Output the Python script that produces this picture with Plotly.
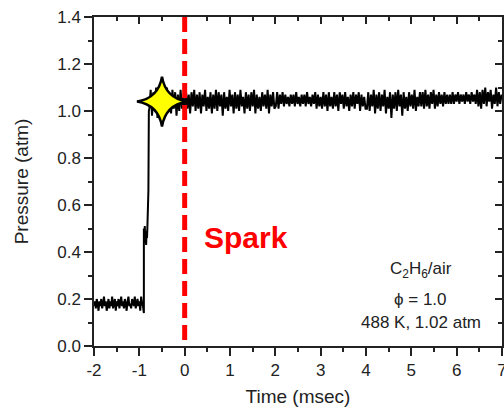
import numpy as np
import plotly.graph_objects as go

# --- data ---
# pre-ignition baseline, sampled every 0.02 ms from -2.00 ms
pre_t0, pre_dt = -2.00, 0.02
pre_p = [0.17, 0.19, 0.16, 0.20, 0.18, 0.15, 0.19, 0.17, 0.20, 0.16, 0.18, 0.21, 0.17, 0.19, 0.15, 0.18,
         0.20, 0.16, 0.19, 0.17, 0.21, 0.16, 0.18, 0.20, 0.15, 0.19, 0.17, 0.20, 0.16, 0.18, 0.21, 0.17,
         0.19, 0.16, 0.20, 0.18, 0.15, 0.19, 0.21, 0.17, 0.18, 0.16, 0.20, 0.19, 0.17, 0.21, 0.16, 0.18,
         0.20, 0.17, 0.19, 0.15, 0.21, 0.18, 0.17, 0.14]

# first pressure step and rise to the plateau
rise_t = [-0.90, -0.89, -0.88, -0.87, -0.86, -0.85, -0.84, -0.83, -0.82, -0.81, -0.80, -0.79]
rise_p = [0.50, 0.44, 0.51, 0.45, 0.49, 0.43, 0.48, 0.46, 0.52, 0.58, 0.66, 1.00]

# plateau after ignition, sampled every 0.03 ms from -0.78 ms
post_t0, post_dt = -0.78, 0.03
post_p = [
    1.01, 1.09, 0.98, 1.08, 1.00, 1.10, 0.97, 1.07, 1.01, 1.09, 0.99, 1.08, 0.98, 1.10, 1.00, 1.07,
    0.99, 1.09, 1.01, 1.08, 0.98, 1.07, 1.00, 1.09, 1.01, 1.06,
    1.00, 1.08, 1.01, 1.07, 0.99, 1.08, 1.02, 1.09, 1.00, 1.07, 1.01, 1.08, 0.99, 1.07, 1.02, 1.09,
    1.00, 1.06, 1.01, 1.08, 0.99, 1.07, 1.01, 1.09, 1.00, 1.08, 1.02, 1.07, 0.98, 1.08, 1.01, 1.06,
    1.00, 1.09, 1.02, 1.07, 0.99, 1.08, 1.01, 1.07, 1.00, 1.09, 1.02, 1.06, 0.99, 1.08, 1.01, 1.07,
    1.00, 1.08, 1.02, 1.09, 0.99, 1.07, 1.01, 1.06, 1.00, 1.08, 1.02, 1.07, 1.01, 1.09, 0.99, 1.07,
    1.02, 1.08, 1.01,
    1.02, 1.08, 1.01, 1.07, 1.03, 1.08, 1.02, 1.07, 1.03, 1.06, 1.02, 1.07, 1.03, 1.07, 1.02, 1.08,
    1.03, 1.06, 1.02, 1.07, 1.03, 1.07, 1.02, 1.08, 1.03, 1.06, 1.02, 1.07, 1.03, 1.08, 1.01, 1.07,
    1.02, 1.06,
    1.01, 1.08, 1.02, 1.07, 1.00, 1.08, 1.02, 1.06, 1.01, 1.08, 1.02, 1.07, 1.00, 1.08, 1.03, 1.07,
    1.01, 1.08, 1.02, 1.06, 1.00, 1.07, 1.02, 1.08, 1.01, 1.07, 1.03, 1.08, 1.00, 1.07, 1.02, 1.06,
    1.01,
    1.01, 1.08, 1.00, 1.07, 1.02, 1.09, 0.99, 1.07, 1.01, 1.08, 1.00, 1.07, 1.02, 1.09, 0.99, 1.06,
    1.01, 1.08, 0.97, 1.07, 1.01, 1.08, 1.00, 1.09, 1.02, 1.07, 0.98, 1.08, 1.01, 1.06, 1.00, 1.08,
    1.02, 1.07, 1.01, 1.09, 1.00, 1.06, 1.02, 1.08,
    1.02, 1.08, 1.01, 1.09, 1.02, 1.07, 1.01, 1.08, 1.03, 1.09, 1.01, 1.07, 1.02, 1.08, 1.03, 1.07,
    1.02, 1.08, 1.03, 1.07, 1.03, 1.07, 1.03, 1.08, 1.03, 1.07, 1.04, 1.08, 1.03, 1.07, 1.04, 1.07,
    1.03, 1.08,
    1.04, 1.07, 1.03, 1.08, 1.04, 1.07, 1.03, 1.09, 1.02, 1.08, 1.01, 1.09, 1.03, 1.10, 1.02, 1.08,
    1.04, 1.09, 1.01, 1.07, 1.03, 1.10, 1.02, 1.08, 1.03, 1.07,
]

spark_time = 0.0
ignition_time, ignition_p = -0.5, 1.04

x_tickvals = [-2, -1, 0, 1, 2, 3, 4, 5, 6, 7]
x_ticktext = ["-2", "-1", "0", "1", "2", "3", "4", "5", "6", "7"]
y_tickvals = [0.0, 0.2, 0.4, 0.6, 0.8, 1.0, 1.2, 1.4]

x_range = [-2, 7]
y_range = [0, 1.4]

# sample grids
pre_t = np.round(pre_t0 + pre_dt * np.arange(len(pre_p)), 4)
post_t = np.round(post_t0 + post_dt * np.arange(len(post_p)), 4)

t_all = list(pre_t) + rise_t + list(post_t)
p_all = list(pre_p) + rise_p + list(post_p)

FONT = "Liberation Sans, Arial, sans-serif"
AX = "#222222"

fig = go.Figure()
fig.add_trace(go.Scatter(x=t_all, y=p_all, mode="lines",
                         line=dict(color="black", width=2), showlegend=False,
                         hoverinfo="skip"))

# spark line
fig.add_shape(type="line", x0=spark_time, x1=spark_time, y0=y_range[1], y1=y_range[0],
              xref="x", yref="y", line=dict(color="#ff0000", width=5, dash="15px,7px"))

# ignition star: a thin four-pointed sparkle anchored at the ignition point (pixel-sized)
R, C = 25, 3.5
star_path = (f"M {R},0 Q {C},{C} 0,{R} Q {-C},{C} {-R},0 "
             f"Q {-C},{-C} 0,{-R} Q {C},{-C} {R},0 Z")
fig.add_shape(type="path", path=star_path, xref="x", yref="y",
              xsizemode="pixel", ysizemode="pixel",
              xanchor=ignition_time, yanchor=ignition_p,
              fillcolor="#ffff00", line=dict(color="black", width=2.5), layer="above")

# invisible trace for mirror axes
fig.add_trace(go.Scatter(x=x_range, y=y_range, xaxis="x2", yaxis="y2", mode="markers",
                         marker=dict(opacity=0), showlegend=False, hoverinfo="skip"))

fig.add_annotation(x=1.35, y=0.46, xref="x", yref="y", text="<b>Spark</b>", showarrow=False,
                   font=dict(family=FONT, size=30, color="#ff0000"))
fig.add_annotation(x=5.21, y=0.325, xref="x", yref="y", text="C<sub>2</sub>H<sub>6</sub>/air",
                   showarrow=False, font=dict(family=FONT, size=17, color="#222"))
fig.add_annotation(x=5.21, y=0.196, xref="x", yref="y", text="ϕ = 1.0",
                   showarrow=False, font=dict(family=FONT, size=17, color="#222"))
fig.add_annotation(x=5.21, y=0.098, xref="x", yref="y", text="488 K, 1.02 atm",
                   showarrow=False, font=dict(family=FONT, size=17, color="#222"))

axis_common = dict(showgrid=False, zeroline=False, showline=True, linecolor=AX, linewidth=1.5,
                   tickcolor=AX, tickwidth=1.5)

fig.update_layout(
    width=504, height=407,
    margin=dict(l=94, r=2, t=17, b=61),
    paper_bgcolor="white", plot_bgcolor="white",
    font=dict(family=FONT, size=17, color="#222"),
    xaxis=dict(range=x_range, tickvals=x_tickvals, ticktext=x_ticktext, ticks="outside",
               ticklen=8, ticklabeloverflow="allow", automargin=False,
               minor=dict(ticks="outside", dtick=0.5, ticklen=4, tickcolor=AX, tickwidth=1.5),
               title=dict(text="Time (msec)", font=dict(size=19), standoff=12),
               **axis_common),
    yaxis=dict(range=y_range, tickvals=y_tickvals, tickformat=".1f", ticks="outside",
               ticklen=8, automargin=False,
               minor=dict(ticks="outside", dtick=0.1, ticklen=4, tickcolor=AX, tickwidth=1.5),
               title=dict(text="Pressure (atm)", font=dict(size=19), standoff=24),
               **axis_common),
    xaxis2=dict(range=x_range, overlaying="x", side="top", anchor="y", tickvals=x_tickvals,
                showticklabels=False, ticks="inside", ticklen=7,
                minor=dict(ticks="inside", dtick=0.5, ticklen=4, tickcolor=AX, tickwidth=1.5),
                **axis_common),
    yaxis2=dict(range=y_range, overlaying="y", side="right", anchor="x", tickvals=y_tickvals,
                showticklabels=False, ticks="inside", ticklen=7,
                minor=dict(ticks="inside", dtick=0.1, ticklen=4, tickcolor=AX, tickwidth=1.5),
                **axis_common),
)

fig.write_html("out.html", post_script="document.body.style.margin='0';",
               config={"displayModeBar": False})
